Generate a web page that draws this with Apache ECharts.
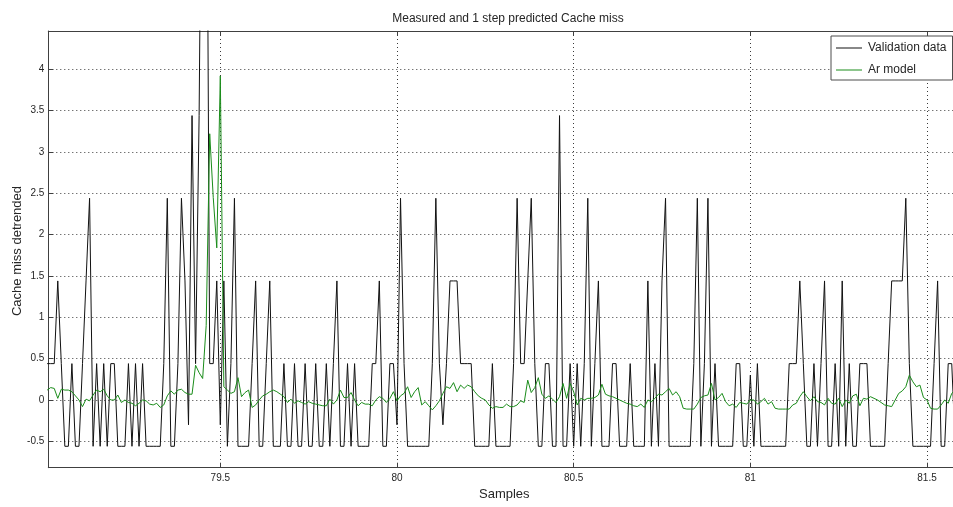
<!DOCTYPE html>
<html>
<head>
<meta charset="utf-8">
<script src="https://cdn.jsdelivr.net/npm/echarts@6/dist/echarts.min.js"></script>
<style>
  html, body { margin: 0; padding: 0; background: #ffffff; }
  #chart { width: 953px; height: 507px; }
</style>
</head>
<body>
<div id="chart"></div>
<script>
// Sample positions: first sample and spacing along the "Samples" axis
const firstSample = 79.01;
const sampleStep = 0.01;

// Measured (detrended) cache misses
const validationData = [
  0.44, 0.44, 0.44, 1.44, 0.44, -0.56, -0.56, 0.44, -0.56, -0.56,
  0.44, 1.44, 2.44, -0.56, 0.44, -0.56, 0.44, -0.56, 0.44, 0.44,
  -0.56, -0.56, -0.56, 0.44, -0.56, 0.44, -0.56, 0.44, -0.56, -0.56,
  -0.56, -0.56, -0.56, 0.44, 2.44, -0.56, -0.56, 0.44, 2.44, 1.44,
  -0.3, 3.44, 0.44, 3.44, 8.44, 8.44, 0.44, 0.44, 1.44, -0.3,
  1.44, -0.56, 0.44, 2.44, -0.56, -0.56, -0.56, -0.56, 0.44, 1.44,
  -0.56, -0.56, 0.44, 1.44, -0.56, -0.56, -0.56, 0.44, -0.56, -0.56,
  0.44, -0.56, -0.56, 0.44, -0.56, -0.56, 0.44, -0.56, -0.56, 0.44,
  -0.56, 0.44, 1.44, -0.56, -0.56, 0.44, -0.56, 0.44, -0.56, -0.56,
  -0.56, -0.56, 0.44, 0.44, 1.44, -0.56, -0.56, 0.44, 0.44, -0.3,
  2.44, 0.44, -0.56, -0.56, -0.56, -0.56, -0.56, -0.56, -0.56, 0.44,
  2.44, 0.44, -0.3, 0.44, 1.44, 1.44, 1.44, 0.44, 0.44, 0.44,
  0.44, -0.56, -0.56, -0.56, -0.56, -0.56, 0.44, -0.56, -0.56, -0.56,
  -0.56, -0.56, 0.44, 2.44, 0.44, 0.44, 1.44, 2.44, 0.44, -0.56,
  -0.56, 0.44, 0.44, -0.56, -0.56, 3.44, -0.56, -0.56, 0.44, -0.56,
  0.44, -0.56, 0.44, 2.44, -0.56, 0.44, 1.44, -0.56, -0.56, -0.56,
  0.44, 0.44, -0.56, -0.56, -0.56, 0.44, -0.56, -0.56, -0.56, -0.56,
  1.44, -0.56, 0.44, -0.56, 1.44, 2.44, -0.56, -0.56, -0.56, -0.56,
  -0.56, -0.56, -0.56, 0.44, 2.44, -0.56, 0.44, 2.44, -0.56, 0.44,
  -0.56, -0.56, -0.56, -0.56, -0.56, 0.44, 0.44, -0.56, -0.56, 0.3,
  -0.56, 0.44, -0.56, -0.56, -0.56, -0.56, -0.56, -0.56, -0.56, -0.56,
  0.44, 0.44, 0.44, 1.44, 0.44, -0.56, -0.56, 0.44, -0.56, 0.44,
  1.44, -0.56, -0.56, 0.44, -0.56, 1.44, -0.56, 0.44, -0.56, -0.56,
  0.44, 0.44, 0.44, -0.56, -0.56, -0.56, -0.56, -0.56, 0.44, 1.44,
  1.44, 1.44, 1.44, 2.44, 0.44, -0.56, -0.56, -0.56, -0.56, -0.56,
  -0.56, 0.44, 1.44, -0.56, -0.56, 0.44, 0.44, -0.56
];

// One step ahead prediction of the AR model
const arModelData = [
  0.12, 0.15, 0.14, 0.02, 0.13, 0.12, 0.12, 0.10, 0.05, 0.0,
  -0.08, 0.01, -0.01, 0.06, 0.12, 0.10, 0.13, 0.05, 0.0, 0.0,
  0.06, -0.03, 0.0, -0.03, -0.04, -0.07, -0.04, 0.0, -0.01, -0.05,
  -0.06, -0.04, -0.09, -0.06, 0.05, 0.11, 0.07, 0.12, 0.13, 0.09,
  0.07, 0.07, 0.42, 0.33, 0.26, 0.9, 3.22, 2.45, 1.84, 3.92,
  0.16, 0.12, 0.08, 0.10, 0.27, 0.04, 0.09, 0.12, -0.09, -0.06,
  0.0, 0.05, 0.07, 0.10, 0.12, 0.10, 0.07, 0.04, -0.03, 0.01,
  -0.04, -0.01, -0.03, -0.05, -0.02, -0.04, -0.05, -0.06, -0.07, -0.07,
  0.01, -0.05, 0.0, 0.12, 0.03, 0.03, 0.09, 0.0, -0.07, -0.03,
  -0.05, -0.05, -0.07, 0.0, 0.04, 0.02, -0.03, 0.02, 0.10, -0.01,
  0.05, 0.08, 0.16, 0.03, 0.10, 0.15, -0.06, -0.02, -0.07, -0.12,
  -0.07, -0.01, 0.08, 0.16, 0.14, 0.21, 0.10, 0.18, 0.14, 0.18,
  0.16, 0.10, 0.05, 0.02, 0.0, -0.06, -0.10, -0.08, -0.09, -0.09,
  -0.05, -0.08, -0.08, -0.06, -0.01, -0.03, 0.24, 0.09, 0.15, 0.27,
  0.07, 0.02, 0.05, 0.01, -0.03, 0.04, 0.20, 0.02, 0.20, 0.10,
  -0.06, 0.02, 0.0, 0.02, 0.02, 0.03, 0.06, 0.19, 0.07, 0.05,
  0.04, 0.02, 0.0, -0.02, -0.04, -0.05, -0.07, -0.08, -0.05, -0.09,
  0.0, -0.02, 0.02, 0.07, 0.06, 0.10, 0.14, 0.06, 0.10, 0.04,
  -0.10, -0.11, -0.11, -0.11, -0.05, 0.03, 0.05, 0.06, 0.20, 0.0,
  0.03, 0.08, -0.02, -0.07, -0.05, -0.09, -0.03, -0.04, -0.05, 0.0,
  0.0, -0.05, -0.02, 0.02, -0.05, -0.02, -0.10, -0.11, -0.11, -0.11,
  -0.11, -0.06, -0.04, 0.04, 0.10, 0.04, -0.01, 0.04, -0.02, -0.03,
  -0.06, 0.02, -0.04, -0.05, 0.02, -0.08, 0.0, -0.04, 0.05, 0.07,
  -0.07, 0.02, 0.01, 0.04, 0.02, 0.0, -0.03, -0.06, -0.07, -0.08,
  0.0, 0.08, 0.11, 0.16, 0.30, 0.22, 0.16, 0.18, 0.03, 0.0,
  -0.10, -0.11, -0.11, -0.06, 0.0, -0.04, 0.08, 0.12
];

// Visible axis ranges
const xRange = [79.0132, 81.5877];
const yRange = [-0.819, 4.463];

function toPoints(values) {
  return values.map((v, i) => [+(firstSample + i * sampleStep).toFixed(4), v]);
}

const font = 'Liberation Sans, Arial, Helvetica, sans-serif';
const textColor = '#262626';
const gridLine = { show: true, lineStyle: { color: '#3a3a3a', type: [1, 3], width: 1 } };

const chart = echarts.init(document.getElementById('chart'), null, { renderer: 'canvas' });

chart.setOption({
  animation: false,
  backgroundColor: '#ffffff',
  title: {
    text: 'Measured and 1 step predicted Cache miss',
    left: 503,
    top: 8,
    textAlign: 'center',
    textStyle: { fontFamily: font, fontSize: 12, fontWeight: 'normal', color: textColor }
  },
  legend: {
    data: ['Validation data', 'Ar model'],
    orient: 'vertical',
    left: 831,
    top: 36,
    padding: [6, 6, 4, 5],
    itemGap: 10,
    itemWidth: 26,
    itemHeight: 1,
    icon: 'rect',
    backgroundColor: '#ffffff',
    borderColor: '#4d4d4d',
    borderWidth: 1,
    borderRadius: 0,
    textStyle: { fontFamily: font, fontSize: 12, color: textColor, padding: [0, 0, 0, 1] }
  },
  grid: {
    left: 48.3,
    top: 31,
    right: -5,
    bottom: 39.3,
    containLabel: false,
    outerBoundsMode: 'none'
  },
  xAxis: [
    {
      type: 'value',
      min: xRange[0],
      max: xRange[1],
      splitNumber: 5,
      minInterval: 0.5,
      maxInterval: 0.5,
      axisLine: { show: true, onZero: false, lineStyle: { color: '#404040', width: 1 } },
      axisTick: { show: true, inside: true, length: 5, lineStyle: { color: '#404040' } },
      axisLabel: {
        showMinLabel: false, showMaxLabel: false, margin: 6,
        fontFamily: font, fontSize: 10, color: textColor
      },
      splitLine: gridLine
    },
    {
      type: 'value',
      position: 'top',
      min: xRange[0],
      max: xRange[1],
      splitNumber: 5,
      minInterval: 0.5,
      maxInterval: 0.5,
      axisLine: { show: true, onZero: false, lineStyle: { color: '#404040', width: 1 } },
      axisTick: { show: true, inside: true, length: 5, lineStyle: { color: '#404040' } },
      axisLabel: { show: false },
      splitLine: { show: false }
    }
  ],
  yAxis: {
    type: 'value',
    min: yRange[0],
    max: yRange[1],
    splitNumber: 10,
    minInterval: 0.5,
    maxInterval: 0.5,
    axisLine: { show: true, onZero: false, lineStyle: { color: '#404040', width: 1 } },
    axisTick: { show: true, inside: true, length: 5, lineStyle: { color: '#404040' } },
    axisLabel: {
      showMinLabel: false, showMaxLabel: false, margin: 4,
      fontFamily: font, fontSize: 10, color: textColor
    },
    splitLine: gridLine
  },
  graphic: [
    {
      type: 'text',
      left: 503 - 24,
      top: 488,
      style: { text: 'Samples', fontFamily: font, fontSize: 13, fill: textColor }
    },
    {
      type: 'text',
      x: 17,
      y: 251,
      rotation: Math.PI / 2,
      style: {
        text: 'Cache miss detrended', fontFamily: font, fontSize: 13, fill: textColor,
        align: 'center', verticalAlign: 'middle'
      }
    }
  ],
  series: [
    {
      name: 'Validation data',
      type: 'line',
      xAxisIndex: 0,
      data: toPoints(validationData),
      showSymbol: false,
      symbol: 'none',
      smooth: false,
      clip: true,
      lineStyle: { color: '#111111', width: 1 },
      itemStyle: { color: '#111111' },
      z: 3
    },
    {
      name: 'Ar model',
      type: 'line',
      xAxisIndex: 0,
      data: toPoints(arModelData),
      showSymbol: false,
      symbol: 'none',
      smooth: false,
      clip: true,
      lineStyle: { color: '#1a8c1a', width: 1 },
      itemStyle: { color: '#1a8c1a' },
      z: 4
    }
  ]
});
</script>
</body>
</html>
